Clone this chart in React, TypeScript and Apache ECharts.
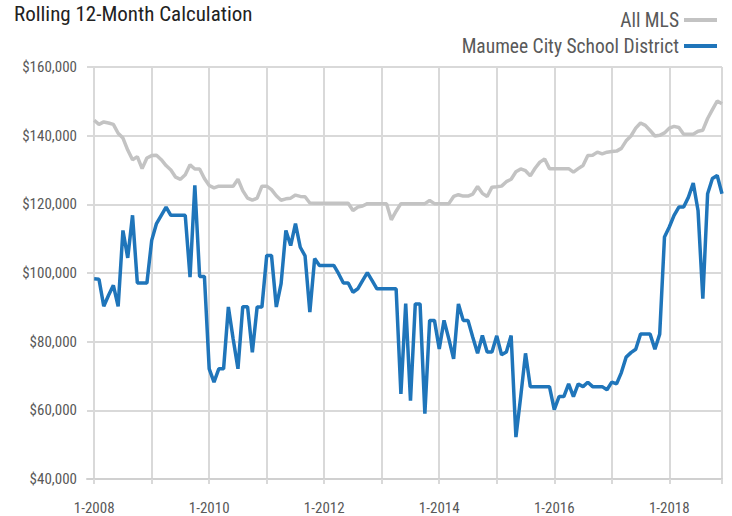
import React, { useEffect, useRef } from "react";
import * as echarts from "echarts";

// Monthly values, Jan 2008 .. Dec 2018 (132 months)
const allMls = [
  144500, 143300, 144000, 143700, 143300, 140700, 139300, 135800, 133000, 133900, 130400, 133500,
  134200, 134300, 133000, 131300, 130000, 127900, 127300, 128600, 131500, 130300, 130300, 127500,
  125500, 124800, 125300, 125300, 125300, 125300, 127300, 124000, 121800, 121200, 121800, 125300,
  125300, 124300, 122500, 121200, 121600, 121800, 122700, 122300, 122200, 120400, 120300, 120300,
  120300, 120300, 120300, 120300, 120300, 120300, 118200, 119200, 119500, 120200, 120200, 120200,
  120200, 120200, 115500, 118000, 120200, 120200, 120200, 120200, 120200, 120200, 121100, 120200,
  120200, 120200, 120200, 122300, 122800, 122400, 122400, 123000, 125200, 123200, 122300, 125000,
  125100, 125300, 126600, 127300, 129500, 130300, 129800, 128300, 130500, 132300, 133200, 130400,
  130400, 130400, 130400, 130400, 129400, 130400, 131300, 134200, 134300, 135200, 134700, 135200,
  135400, 135500, 136300, 138500, 139900, 142200, 143700, 143000, 141500, 139900, 140100, 140800,
  142200, 142700, 142400, 140400, 140400, 140400, 141300, 141600, 145000, 147600, 150100, 149300,
];

const maumee = [
  98300, 98200, 90300, 93500, 96400, 90300, 112400, 104400, 116800, 97100, 97100, 97100,
  109500, 114400, 116800, 119200, 116800, 116800, 116800, 116800, 98800, 125500, 99000, 99000,
  72100, 68200, 72100, 72100, 90100, 80800, 72100, 90200, 90200, 76900, 90100, 90100,
  105100, 105100, 90100, 96900, 112400, 108000, 114400, 107500, 105000, 88600, 104200, 102200,
  102200, 102200, 102200, 99800, 97100, 97100, 94400, 95400, 97800, 100100, 97800, 95400,
  95400, 95400, 95400, 95400, 64800, 91100, 62800, 91000, 91000, 59000, 86200, 86200,
  77900, 86200, 80800, 75000, 91000, 86200, 86200, 81300, 76600, 81800, 77000, 77000,
  81700, 76200, 77000, 81800, 52200, 64000, 76600, 66900, 66900, 66900, 66900, 66900,
  60200, 64000, 64000, 67700, 64000, 67700, 66900, 68200, 66900, 66900, 66900, 66000,
  68200, 67700, 71000, 75500, 76800, 77800, 82200, 82200, 82200, 77800, 82200, 110500,
  113400, 116800, 119200, 119200, 122100, 126200, 118200, 92500, 123100, 127500, 128400, 123100,
];

const tickLabels = ["1-2008", "1-2010", "1-2012", "1-2014", "1-2016", "1-2018"];
const seriesNames = ["All MLS", "Maumee City School District"];

const FONT = "'Liberation Sans Narrow', 'Roboto Condensed', 'Arial Narrow', Roboto, sans-serif";

export default function App() {
  const ref = useRef<HTMLDivElement>(null);
  useEffect(() => {
    if (!ref.current) return;
    const chart = echarts.init(ref.current, null, { renderer: "svg" });
    const toPairs = (arr: number[]) => arr.map((v, i) => [i, v]);
    const yearTicks: number[] = [];
    for (let m = 0; m <= 120; m += 12) yearTicks.push(m);
    yearTicks.push(allMls.length - 1);
    const labelTicks = tickLabels.map((_, i) => i * 24);
    chart.setOption({
      animation: false,
      textStyle: { fontFamily: FONT },
      title: {
        text: "Rolling 12-Month Calculation",
        left: 9,
        top: -2,
        textStyle: { fontFamily: FONT, fontSize: 21, fontWeight: "normal", color: "#222" },
      },
      legend: {
        orient: "vertical",
        right: 10,
        top: 5,
        align: "right",
        itemWidth: 33,
        itemHeight: 4,
        itemGap: 6,
        icon: "rect",
        textStyle: { fontFamily: FONT, fontSize: 19.5, color: "#595959" },
        data: seriesNames,
      },
      grid: { left: 87, right: 10, top: 67, bottom: 37 },
      xAxis: {
        type: "value",
        min: -1.5,
        max: allMls.length - 1,
        axisLine: { show: true, lineStyle: { color: "#d0d0d0", width: 2 } },
        axisTick: { show: true, length: 5, customValues: yearTicks, lineStyle: { color: "#d9d9d9", width: 2 } },
        axisLabel: {
          customValues: labelTicks,
          formatter: (v: number) => tickLabels[Math.round(v / 24)] ?? "",
          color: "#595959",
          fontSize: 15,
          fontFamily: FONT,
          margin: 21,
        },
        splitLine: { show: true, lineStyle: { color: "#d9d9d9", width: 2 } },
      },
      yAxis: {
        type: "value",
        min: 40000,
        max: 160000,
        interval: 20000,
        axisLine: { show: false },
        axisTick: { show: false },
        axisLabel: {
          formatter: (v: number) => "$" + v.toLocaleString("en-US"),
          color: "#595959",
          fontSize: 15,
          fontFamily: FONT,
          margin: 10,
        },
        splitLine: { show: true, lineStyle: { color: "#d9d9d9", width: 2 } },
      },
      series: [
        {
          name: seriesNames[0],
          type: "line",
          data: toPairs(allMls),
          showSymbol: false,
          color: "#c3c3c3",
          lineStyle: { width: 3.5, color: "#c3c3c3" },
        },
        {
          name: seriesNames[1],
          type: "line",
          data: toPairs(maumee),
          showSymbol: false,
          color: "#1f75ba",
          lineStyle: { width: 3.5, color: "#1f75ba" },
        },
      ],
    });
    return () => chart.dispose();
  }, []);
  return <div ref={ref} style={{ width: 732, height: 516, position: "absolute", left: 0, top: 0 }} />;
}
